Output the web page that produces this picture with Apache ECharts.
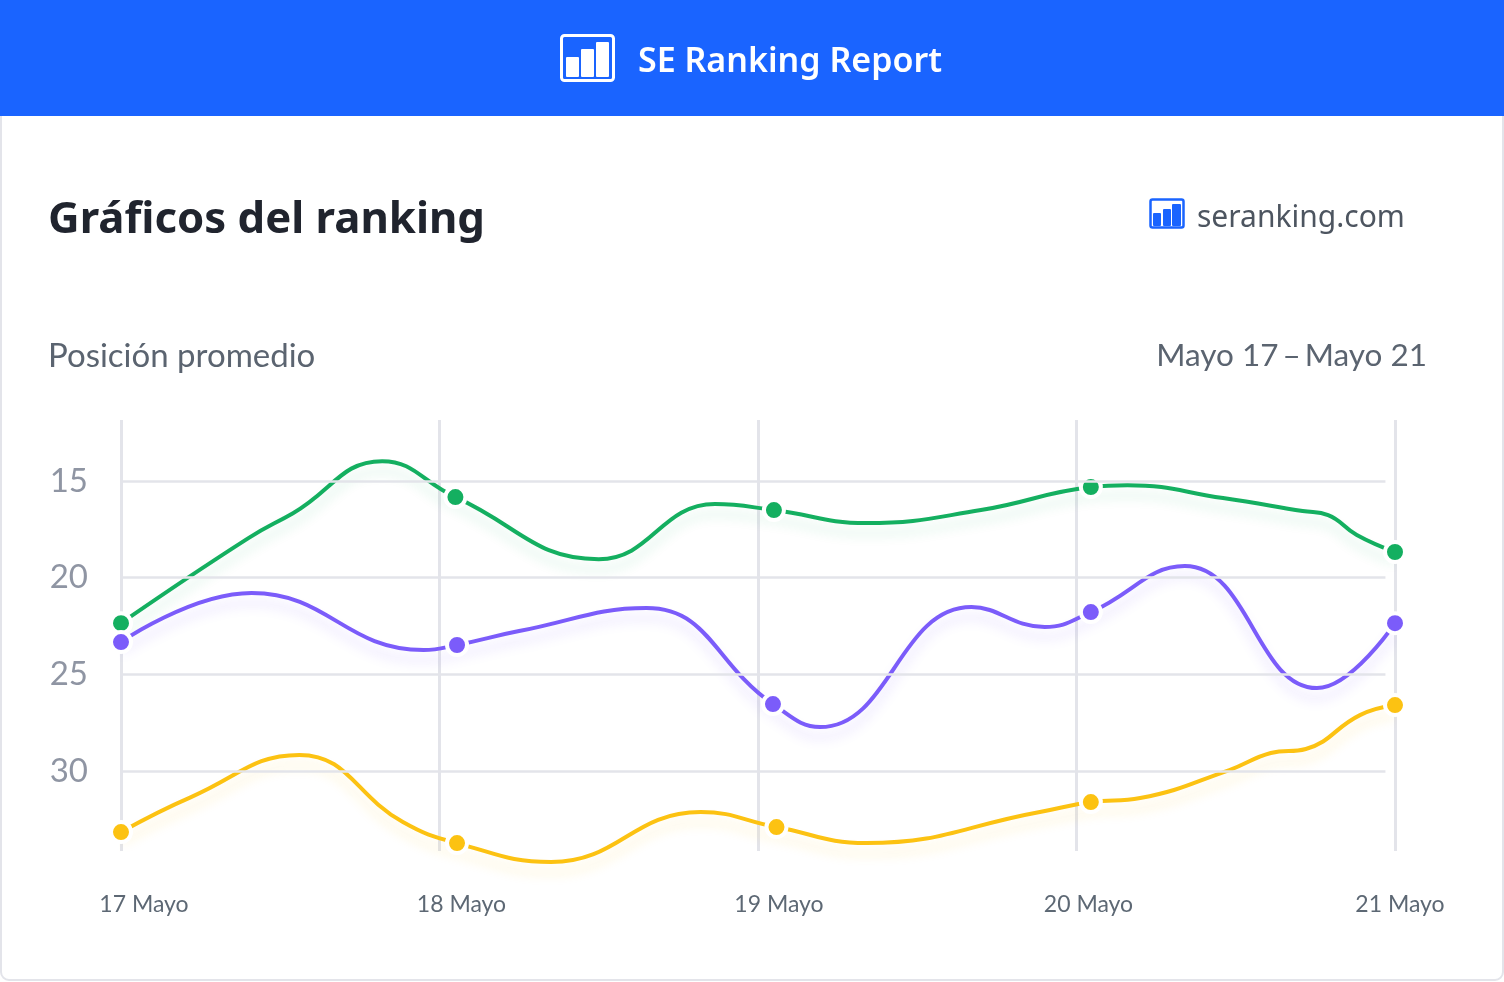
<!DOCTYPE html>
<html>
<head>
<meta charset="utf-8">
<style>
  html, body { margin: 0; padding: 0; background: #fff; }
  #chart { width: 1504px; height: 982px; }
</style>
<script src="https://cdn.jsdelivr.net/npm/echarts@6/dist/echarts.min.js"></script>
</head>
<body>
<div id="chart"></div>
<script>
let dayLabels = ['17 Mayo', '18 Mayo', '19 Mayo', '20 Mayo', '21 Mayo']
let rankTicks = [15, 20, 25, 30]

let greenDays = [17, 17.4, 17.54, 17.82, 18.05, 18.5, 18.865, 19.05, 19.34, 19.7, 20.045, 20.16, 20.46, 20.71, 20.79, 20.88, 21]
let greenRanks = [22.35, 17.95, 16.66, 13.97, 15.83, 19.04, 16.19, 16.5, 17.17, 16.5, 15.31, 15.21, 15.88, 16.55, 16.76, 17.79, 18.67]
let greenDots = [0, 4, 7, 10, 16]

let purpleDays = [17, 17.41, 17.95, 18.055, 18.25, 18.65, 19.047, 19.195, 19.67, 19.9, 20.045, 20.34, 20.755, 21]
let purpleRanks = [23.33, 20.79, 23.74, 23.48, 22.76, 21.57, 26.54, 27.73, 21.52, 22.55, 21.78, 19.4, 25.71, 22.35]
let purpleDots = [0, 3, 6, 10, 13]

let yellowDays = [17, 17.22, 17.56, 17.885, 18.055, 18.35, 18.82, 19.058, 19.34, 19.885, 20.045, 20.2, 20.48, 20.61, 20.72, 20.89, 21]
let yellowRanks = [33.16, 31.35, 29.17, 32.64, 33.73, 34.71, 32.12, 32.9, 33.73, 32.12, 31.61, 31.4, 29.95, 29.07, 28.86, 27.11, 26.59]
let yellowDots = [0, 4, 7, 10, 16]

function lineSeries(days, ranks, color, shadow) {
  return {
    type: 'line',
    data: days.map((d, i) => [d, ranks[i]]),
    smooth: 0.45,
    symbol: 'none',
    clip: false,
    z: 3,
    lineStyle: { color: color, width: 4, shadowColor: shadow, shadowBlur: 12, shadowOffsetY: 10 }
  }
}

function dotSeries(days, ranks, dots, color) {
  return {
    type: 'scatter',
    data: dots.map(i => [days[i], ranks[i]]),
    symbolSize: 20,
    clip: false,
    z: 4,
    itemStyle: { color: color, borderColor: '#fff', borderWidth: 4, opacity: 1 }
  }
}

function bars(list, color) {
  return list.map(b => ({ type: 'rect', shape: { x: b[0], y: b[1], width: b[2], height: b[3], r: 1 }, style: { fill: color } }))
}

let graphics = [
  { type: 'rect', shape: { x: 1, y: 100, width: 1502, height: 880, r: 8 }, style: { fill: '#fff', stroke: '#e3e4ea', lineWidth: 2 } },
  { type: 'rect', shape: { x: 0, y: 0, width: 1504, height: 116 }, style: { fill: '#1a64ff' } },
  { type: 'rect', shape: { x: 561.5, y: 35.5, width: 52, height: 45, r: 3 }, style: { fill: 'none', stroke: '#fff', lineWidth: 3 } },
  ...bars([[566, 57, 13, 20], [581, 49, 13, 28], [596, 42, 13, 35]], '#fff'),
  { type: 'text', style: { x: 638, y: 62, text: 'SE Ranking Report', fill: '#fff', font: '600 34px "Noto Sans"', textVerticalAlign: 'middle' } },
  { type: 'text', style: { x: 48, y: 221, text: 'Gráficos del ranking', fill: '#20242e', font: '700 43.7px "Noto Sans"', textVerticalAlign: 'middle' } },
  { type: 'rect', shape: { x: 1150.5, y: 199.5, width: 33, height: 28, r: 2 }, style: { fill: 'none', stroke: '#1a64ff', lineWidth: 2.5 } },
  ...bars([[1153, 213, 8, 13], [1163, 209, 8, 17], [1172, 204, 9, 22]], '#1a64ff'),
  { type: 'text', style: { x: 1197, y: 218, text: 'seranking.com', fill: '#4d5560', font: '400 30px "Noto Sans"', textVerticalAlign: 'middle' } },
  { type: 'text', style: { x: 48, y: 356, text: 'Posición promedio', fill: '#5b6470', font: '400 33px Lato', textVerticalAlign: 'middle' } },
  { type: 'text', style: { x: 1427, y: 356, text: 'Mayo 17\u2009–\u2009Mayo 21', fill: '#5b6470', font: '400 31.5px Lato', textAlign: 'right', textVerticalAlign: 'middle' } }
]

let labelRich = {}
let labelShift = [46, 44, 42, 24, 10]
labelShift.forEach((p, i) => {
  labelRich['d' + i] = { fontFamily: 'Lato', fontSize: 23, color: '#5d6874', padding: [0, 0, 0, p] }
})

let chart = echarts.init(document.getElementById('chart'))
chart.setOption({
  animation: false,
  graphic: { elements: graphics.map(g => ({ ...g, z: -1 })) },
  grid: { left: 121, width: 1274, top: 420, height: 431 },
  xAxis: {
    type: 'value',
    min: 17,
    max: 21,
    interval: 1,
    axisLine: { show: false },
    axisTick: { show: false },
    splitLine: { show: true, lineStyle: { color: '#e3e4ea', width: 3 } },
    axisLabel: {
      margin: 42,
      hideOverlap: false,
      showMinLabel: true,
      showMaxLabel: true,
      formatter: v => `{d${v - 17}|${dayLabels[v - 17]}}`,
      rich: labelRich
    }
  },
  yAxis: {
    type: 'value',
    inverse: true,
    min: 11.84,
    max: 34.14,
    axisLine: { show: false },
    axisTick: { show: false },
    splitLine: { show: false },
    axisLabel: {
      customValues: rankTicks,
      margin: 33,
      padding: [4, 0, 0, 0],
      fontFamily: 'Lato',
      fontSize: 33,
      color: '#8f95a3'
    }
  },
  series: [
    {
      type: 'line',
      data: [],
      z: 1,
      markLine: {
        silent: true,
        symbol: 'none',
        animation: false,
        label: { show: false },
        lineStyle: { color: '#e3e4ea', width: 2.5, type: 'solid' },
        data: rankTicks.map(v => [{ coord: [17, v] }, { coord: [20.97, v] }])
      }
    },
    lineSeries(greenDays, greenRanks, '#14af60', 'rgba(20,175,96,0.16)'),
    lineSeries(purpleDays, purpleRanks, '#7b5cfa', 'rgba(123,92,250,0.2)'),
    lineSeries(yellowDays, yellowRanks, '#fcc212', 'rgba(252,194,18,0.2)'),
    dotSeries(greenDays, greenRanks, greenDots, '#14af60'),
    dotSeries(purpleDays, purpleRanks, purpleDots, '#7b5cfa'),
    dotSeries(yellowDays, yellowRanks, yellowDots, '#fcc212')
  ]
})
</script>
</body>
</html>
